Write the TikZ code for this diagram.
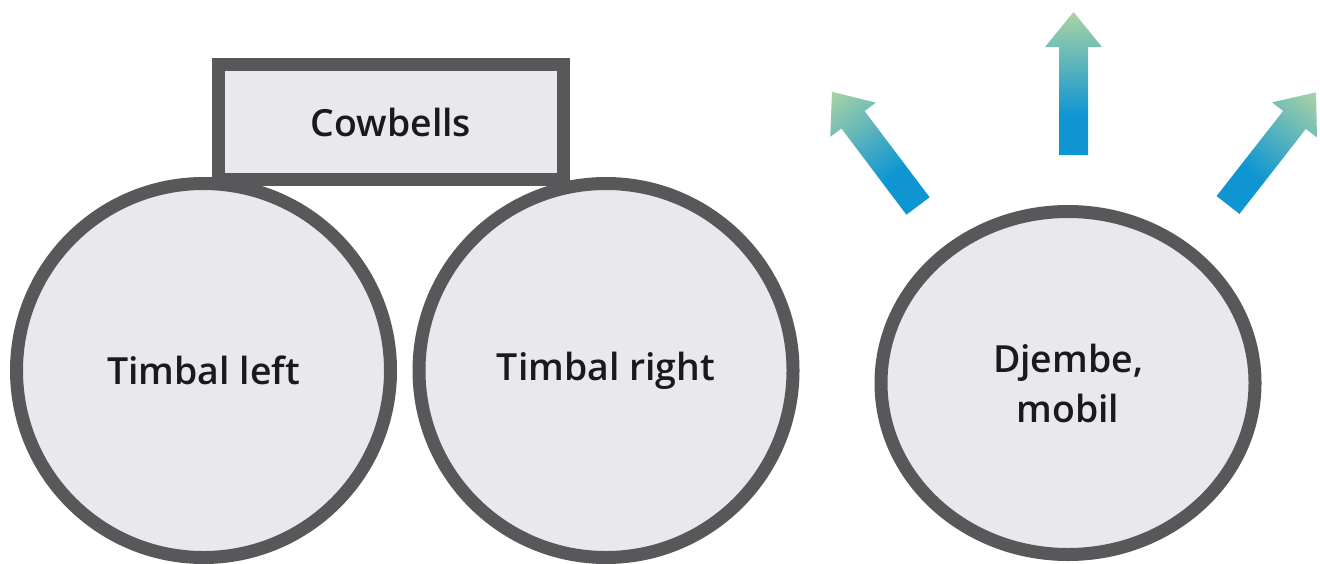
\documentclass[tikz,border=0pt]{standalone}
\usepackage{fontspec}
\setmainfont{Open Sans}[BoldFont={Open Sans Semibold}]
\usepackage{xcolor}
\usetikzlibrary{shapes.geometric}
\definecolor{drumgray}{HTML}{58585A}
\definecolor{drumfill}{HTML}{E9E9EB}
\definecolor{drumtext}{HTML}{1A1A1C}
\definecolor{arrowblue}{HTML}{0F96D2}
\definecolor{arrowgreen}{HTML}{AAD3A5}
\pgfdeclareverticalshading{soundshade}{100bp}{color(0bp)=(arrowblue); color(39bp)=(arrowblue); color(75bp)=(arrowgreen); color(100bp)=(arrowgreen)}

\begin{document}
\begin{tikzpicture}[x=0.5pt,y=-0.5pt]
\tikzset{drum/.style={circle,draw=drumgray,fill=drumfill,line width=6.5pt,minimum size=187pt,inner sep=0pt,align=center,text=drumtext}}
\tikzset{bell/.style={rectangle,draw=drumgray,fill=drumfill,line width=6.5pt,minimum width=172.5pt,minimum height=57.5pt,text=drumtext}}
\tikzset{sound/.style={shading=soundshade}}

\fontsize{18.7}{25}\selectfont\bfseries

\useasboundingbox (0,0) rectangle (1320,563);

\node[drum] (timbalL) at (203.5,370.5) {Timbal left};
\node[drum] (timbalR) at (606,370.5) {Timbal right};
\node[bell] (cowbells) at (391,122) {Cowbells};
\node[drum,ellipse,minimum width=187pt,minimum height=171.5pt] (djembe) at (1068,383) {Djembe,\\mobil};

% sound going out of the djembe
\begin{scope}[transform canvas={shift={(918,206)},rotate=37}]
\shade[sound] (-14.5,0) -- (14.5,0) -- (14.5,-108) -- (28.5,-108) -- (0,-143) -- (-28.5,-108) -- (-14.5,-108) -- cycle;
\end{scope}
\begin{scope}[transform canvas={shift={(1073.5,155)}}]
\shade[sound] (-14.5,0) -- (14.5,0) -- (14.5,-108) -- (28.5,-108) -- (0,-143) -- (-28.5,-108) -- (-14.5,-108) -- cycle;
\end{scope}
\begin{scope}[transform canvas={shift={(1228,205)},rotate=-38}]
\shade[sound] (-14.5,0) -- (14.5,0) -- (14.5,-108) -- (28.5,-108) -- (0,-143) -- (-28.5,-108) -- (-14.5,-108) -- cycle;
\end{scope}

\end{tikzpicture}
\end{document}
